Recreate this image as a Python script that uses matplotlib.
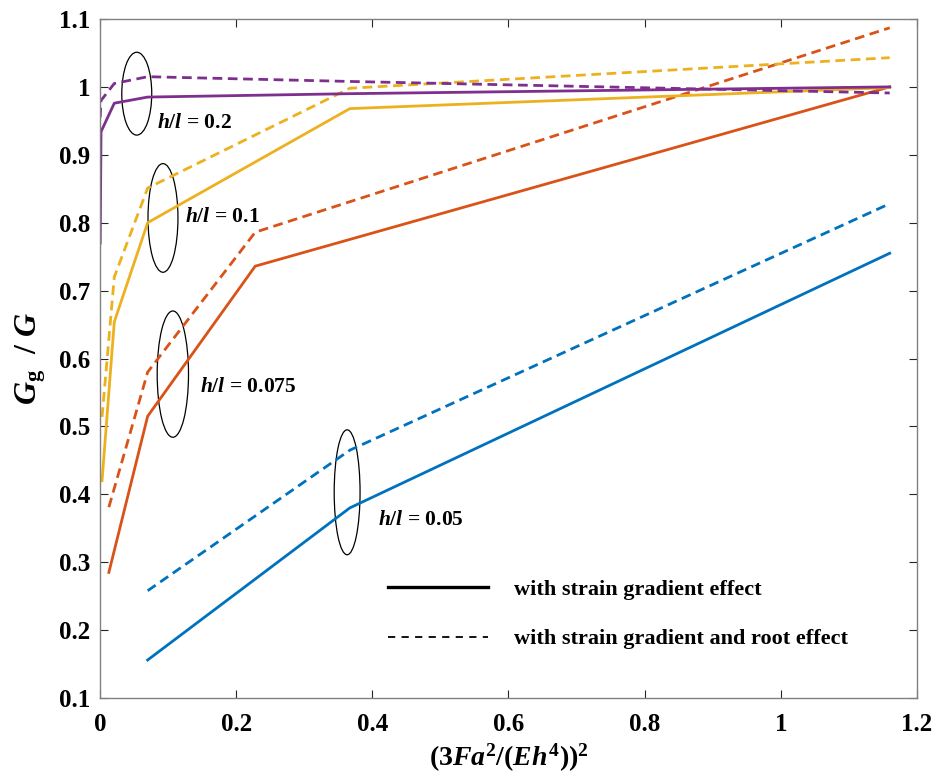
import matplotlib
matplotlib.use("Agg")
import matplotlib.pyplot as plt
from matplotlib.lines import Line2D
from matplotlib.patches import Ellipse

plt.rcParams["font.family"] = ["Liberation Serif", "DejaVu Serif"]
plt.rcParams["font.weight"] = "bold"
plt.rcParams["mathtext.fontset"] = "custom"
plt.rcParams["mathtext.rm"] = "Liberation Serif:bold"
plt.rcParams["mathtext.bf"] = "Liberation Serif:bold"
plt.rcParams["mathtext.it"] = "Liberation Serif:italic:bold"

# MATLAB default line colours
BLUE = "#0072BD"
ORANGE = "#D95319"
YELLOW = "#EDB120"
PURPLE = "#7E2F8E"

# h/l = 0.05
x_005 = [0.07, 0.367, 1.16]
sg_005 = [0.156, 0.380, 0.755]
sgr_005 = [0.258, 0.465, 0.828]

# h/l = 0.075
x_0075 = [0.013, 0.07, 0.228, 1.16]
sg_0075 = [0.285, 0.515, 0.736, 1.0]
sgr_0075 = [0.381, 0.580, 0.786, 1.087]

# h/l = 0.1
x_01 = [0.003, 0.021, 0.07, 0.367, 1.16]
sg_01 = [0.42, 0.654, 0.800, 0.968, 0.999]
sgr_01 = [0.514, 0.72, 0.851, 0.998, 1.043]

# h/l = 0.2
x_02 = [0.0003, 0.0015, 0.021, 0.07, 0.367, 1.16]
sg_02 = [0.77, 0.934, 0.976, 0.985, 0.99, 1.0]
sgr_02 = [0.955, 0.98, 1.005, 1.015, 1.008, 0.991]

# ellipse markers: (cx, cy, width, height), label position and text
ellipses = [
    (0.054, 0.990, 0.044, 0.122),
    (0.0925, 0.807, 0.044, 0.160),
    (0.107, 0.577, 0.046, 0.186),
    (0.363, 0.403, 0.038, 0.184),
]
label_pos = [(0.084, 0.947), (0.125, 0.808), (0.147, 0.558), (0.408, 0.362)]
label_txt = ["0.2", "0.1", "0.075", "0.05"]

fig = plt.figure(figsize=(9.39, 7.78), dpi=100)
ax = fig.add_axes([0.1065, 0.1028, 0.870, 0.8728])

lw = 2.0
dash = (3.5, 2.0)
for x, sg, sgr, c in [
    (x_005, sg_005, sgr_005, BLUE),
    (x_0075, sg_0075, sgr_0075, ORANGE),
    (x_01, sg_01, sgr_01, YELLOW),
    (x_02, sg_02, sgr_02, PURPLE),
]:
    ax.plot(x, sg, color=c, lw=lw)
    ax.plot(x, sgr, color=c, lw=lw, ls=(0, dash))

for (cx, cy, w, h), (lx, ly), t in zip(ellipses, label_pos, label_txt):
    ax.add_patch(Ellipse((cx, cy), w, h, fill=False, ec="black", lw=0.9))
    ax.text(lx, ly, r"$\mathit{h/l}$" + " = " + t, fontsize=15.5,
            fontweight="bold", va="center", ha="left")

handles = [
    Line2D([], [], color="black", lw=2.4),
    Line2D([], [], color="black", lw=1.3, ls=(0, (4, 3.5))),
]
ax.legend(handles, ["with strain gradient effect",
                    "with strain gradient and root effect"],
          loc="center left", bbox_to_anchor=(0.352, 0.123), frameon=False,
          fontsize=16, handlelength=4.5, handletextpad=1.2,
          labelspacing=1.3, borderpad=0, borderaxespad=0)

ax.set_xlim(0, 1.2)
ax.set_ylim(0.1, 1.1)
ax.set_xticks([0, 0.2, 0.4, 0.6, 0.8, 1, 1.2])
ax.set_xticklabels(["0", "0.2", "0.4", "0.6", "0.8", "1", "1.2"])
ax.set_yticks([0.1, 0.2, 0.3, 0.4, 0.5, 0.6, 0.7, 0.8, 0.9, 1, 1.1])
ax.set_yticklabels(["0.1", "0.2", "0.3", "0.4", "0.5", "0.6", "0.7",
                    "0.8", "0.9", "1", "1.1"])
ax.tick_params(direction="in", top=True, right=True, length=6,
               width=0.8, color="#262626", labelsize=18)
ax.tick_params(axis="x", pad=11)
ax.tick_params(axis="y", pad=7)
for s in ax.spines.values():
    s.set_color("#808080")
    s.set_linewidth(1.0)

ax.set_xlabel(r"$\mathbf{(3}\mathit{Fa}^{\mathbf{2}}\mathbf{/(}\mathit{Eh}^{\mathbf{4}}\mathbf{))}^{\mathbf{2}}$",
              fontsize=20, labelpad=4)
ax.set_ylabel(r"$\mathit{G}_{\mathbf{g}}\ \ \mathbf{/}\ \mathit{G}$",
              fontsize=23, labelpad=8)

fig.savefig("out.png", dpi=100)
